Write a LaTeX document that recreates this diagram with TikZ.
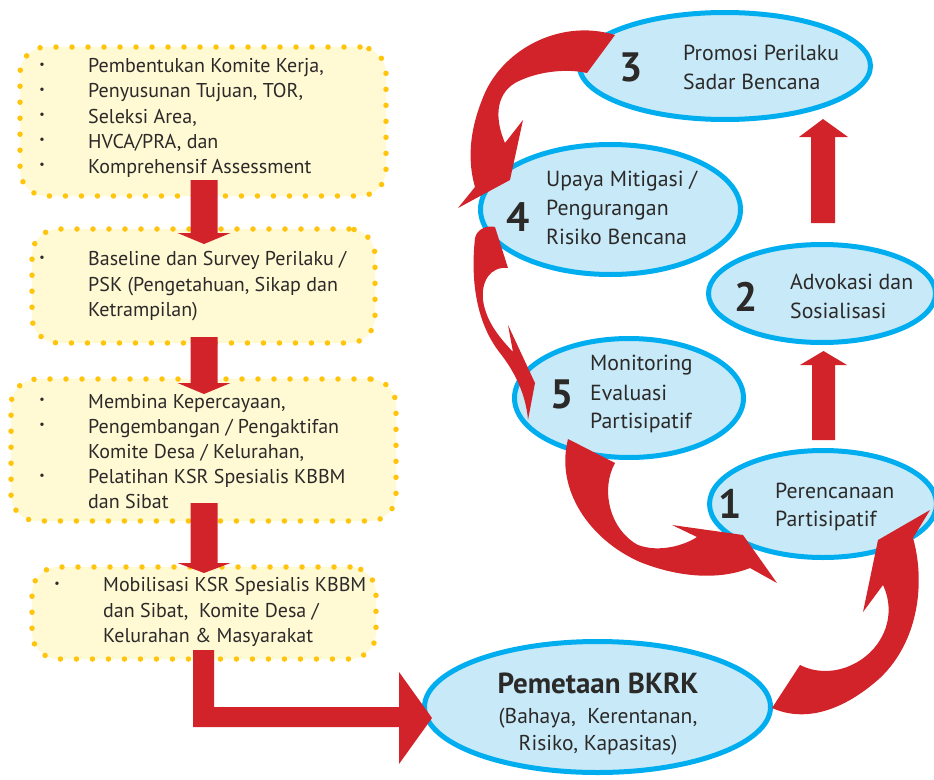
\documentclass[tikz,border=0pt]{standalone}
\usepackage{fontspec}
\setmainfont{PT Sans}
\usetikzlibrary{shapes.geometric}
\definecolor{arrowred}{HTML}{D2232A}
\definecolor{ringblue}{HTML}{00AEEF}
\definecolor{ringfill}{HTML}{C8E9F8}
\definecolor{boxfill}{HTML}{FFF9D4}
\definecolor{dotgold}{HTML}{FFC40C}
\definecolor{ink}{HTML}{2B2A29}
\begin{document}
\begin{tikzpicture}[x=1pt,y=-1pt,
  stepbox/.style={rectangle, fill=boxfill, draw=dotgold, line width=5.5pt, line cap=round,
    dash pattern=on 0pt off 16pt, rounded corners=26pt, inner sep=0pt},
  ring/.style={ellipse, draw=ringblue, fill=ringfill, line width=5pt, inner sep=0pt},
  boxline/.style={anchor=base west, inner sep=0pt, text=ink, font=\fontsize{20}{24}\selectfont},
  ringline/.style={anchor=base west, inner sep=0pt, text=ink, font=\fontsize{21.8}{26}\selectfont},
  bul/.style={inner sep=0pt, text=ink, font=\fontsize{12}{12}\selectfont},
  stepnum/.style={anchor=base, inner sep=0pt, text=ink, font=\fontsize{41}{41}\selectfont\bfseries},
  flow/.style={fill=arrowred}
]
\useasboundingbox (0,0) rectangle (934,779);

% ---------- left column: dotted step boxes ----------
\node[stepbox, minimum width=366pt, minimum height=149pt] (b1) at (203,121.5) {};
\node[stepbox, minimum width=343pt, minimum height=114pt] (b2) at (203.5,286) {};
\node[stepbox, minimum width=385pt, minimum height=142pt] (b3) at (203.5,450) {};
\node[stepbox, minimum width=344pt, minimum height=92pt]  (b4) at (204,613) {};

% ---------- right side: cycle ellipses ----------
\node[ring, minimum width=291pt, minimum height=107pt] (e3) at (725,66) {};
\node[ring, minimum width=260pt, minimum height=130pt] (e4) at (610.5,209.5) {};
\node[ring, minimum width=227pt, minimum height=98pt]  (e2) at (822,293.5) {};
\node[ring, minimum width=229pt, minimum height=119pt] (e5) at (629,398) {};
\node[ring, minimum width=227pt, minimum height=107pt] (e1) at (823,504) {};
\node[ring, minimum width=346pt, minimum height=131pt] (e0) at (597.5,707) {};

% ---------- straight arrows in the left column ----------
\coordinate (d1) at (204,180);
\coordinate (d2) at (204,337);
\coordinate (d3) at (204,503);
\fill[flow, shift={(d1)}] (-13.5,0) -- (13.5,0) -- (13.5,53) -- (26.5,53) -- (0,64) -- (-26.5,53) -- (-13.5,53) -- cycle;
\fill[flow, shift={(d2)}] (-13.5,0) -- (13.5,0) -- (13.5,46) -- (26.5,46) -- (0,57) -- (-26.5,46) -- (-13.5,46) -- cycle;
\fill[flow, shift={(d3)}] (-13.5,0) -- (13.5,0) -- (13.5,60) -- (26.5,60) -- (0,70) -- (-26.5,60) -- (-13.5,60) -- cycle;

% bent arrow from the last box into the mapping ellipse
\fill[flow] (193,650) -- (214,650) -- (214,707) -- (399,707) -- (399,672) -- (432,718)
  -- (399,764) -- (399,727) -- (193,727) -- cycle;

% ---------- straight upward arrows on the right ----------
\coordinate (u1) at (823.5,440);
\coordinate (u2) at (823,223);
\fill[flow, shift={(u1)}] (-11.5,0) -- (11.5,0) -- (11.5,-75) -- (23.5,-75) -- (0,-89) -- (-23.5,-75) -- (-11.5,-75) -- cycle;
\fill[flow, shift={(u2)}] (-12,0) -- (12,0) -- (12,-86) -- (25,-86) -- (0,-104) -- (-24,-86) -- (-12,-86) -- cycle;

% ---------- curved arrows of the cycle ----------
% 3 -> 4
\fill[flow] (615,35) .. controls (560,18) and (500,50) .. (482,100)
  .. controls (466,140) and (470,170) .. (475,187) -- (458,208) -- (510,180) -- (523,120) -- (505,143)
  .. controls (495,120) and (495,95) .. (515,83) .. controls (535,72) and (565,68) .. (587,73) -- cycle;
% 4 -> 5
\fill[flow] (475,238) .. controls (477,229) and (487,225) .. (495,227) -- (508,268)
  .. controls (490,266) and (481,282) .. (483,300) .. controls (486,322) and (500,338) .. (513,352)
  -- (508,325) -- (535,383) -- (528,420)
  .. controls (526,395) and (515,372) .. (500,353) .. controls (478,325) and (470,285) .. (475,238) -- cycle;
% 5 -> 1
\fill[flow] (568,439) -- (615,463) .. controls (600,490) and (610,530) .. (638,545)
  .. controls (660,553) and (685,545) .. (697,537) -- (672,525) -- (743,535) -- (777,583) -- (750,568)
  .. controls (720,580) and (680,578) .. (640,562) .. controls (590,540) and (555,490) .. (568,439) -- cycle;
% mapping -> 1
\fill[flow] (772,708) -- (800,665) .. controls (830,680) and (865,665) .. (880,640)
  .. controls (892,620) and (890,600) .. (883,585) -- (863,612) -- (878,540) -- (930,510) -- (913,538)
  .. controls (925,580) and (920,640) .. (880,678) .. controls (850,705) and (810,725) .. (772,708) -- cycle;

% ---------- texts of the step boxes ----------
\node[bul] (b1d1) at (42,65.5) {•};
\node[bul] (b1d2) at (42,90.7) {•};
\node[bul] (b1d3) at (42,116) {•};
\node[bul] (b1d4) at (42,141) {•};
\node[bul] (b1d5) at (42,166) {•};
\node[boxline] (b1t1) at (88,72.5) {Pembentukan Komite Kerja,};
\node[boxline] (b1t2) at (88,97.7) {Penyusunan Tujuan, TOR,};
\node[boxline] (b1t3) at (88,123) {Seleksi Area,};
\node[boxline] (b1t4) at (88,148) {HVCA/PRA, dan};
\node[boxline] (b1t5) at (88,173) {Komprehensif Assessment};

\node[bul] (b2d1) at (42,258.5) {•};
\node[boxline] (b2t1) at (88,265.5) {Baseline dan Survey Perilaku /};
\node[boxline] (b2t2) at (88,291) {PSK (Pengetahuan, Sikap dan};
\node[boxline] (b2t3) at (88,316.5) {Ketrampilan)};

\node[bul] (b3d1) at (42,401) {•};
\node[bul] (b3d2) at (42,426) {•};
\node[bul] (b3d3) at (42,476.5) {•};
\node[boxline] (b3t1) at (88,408) {Membina Kepercayaan,};
\node[boxline] (b3t2) at (88,433) {Pengembangan / Pengaktifan};
\node[boxline] (b3t3) at (88,458) {Komite Desa / Kelurahan,};
\node[boxline] (b3t4) at (88,483.5) {Pelatihan KSR Spesialis KBBM};
\node[boxline] (b3t5) at (88,508.5) {dan Sibat};

\node[bul] (b4d1) at (57,584.5) {•};
\node[boxline] (b4t1) at (103,591.5) {Mobilisasi KSR Spesialis KBBM};
\node[boxline] (b4t2) at (103,617) {dan Sibat,\ \ Komite Desa /};
\node[boxline] (b4t3) at (103,642.5) {Kelurahan \& Masyarakat};

% ---------- texts of the ellipses ----------
\node[stepnum] (n3) at (631,81.7) {3};
\node[ringline] (e3t1) at (683,60) {Promosi Perilaku};
\node[ringline] (e3t2) at (683,89.3) {Sadar Bencana};

\node[stepnum] (n4) at (518,231.7) {4};
\node[ringline] (e4t1) at (546,186.7) {Upaya Mitigasi /};
\node[ringline] (e4t2) at (546,215.5) {Pengurangan};
\node[ringline] (e4t3) at (546,244.3) {Risiko Bencana};

\node[stepnum] (n2) at (746,311.7) {2};
\node[ringline] (e2t1) at (790,289.3) {Advokasi dan};
\node[ringline] (e2t2) at (790,318.3) {Sosialisasi};

\node[stepnum] (n5) at (562.5,408.3) {5};
\node[ringline] (e5t1) at (590,370.7) {Monitoring};
\node[ringline] (e5t2) at (590,400) {Evaluasi};
\node[ringline] (e5t3) at (590,428.3) {Partisipatif};

\node[stepnum] (n1) at (730.5,518.3) {1};
\node[ringline] (e1t1) at (775,498.3) {Perencanaan};
\node[ringline] (e1t2) at (775,526.7) {Partisipatif};

\node[anchor=base, inner sep=0pt, text=ink, font=\fontsize{29}{33}\selectfont\bfseries] (e0t1) at (598,693.3) {Pemetaan BKRK};
\node[anchor=base, inner sep=0pt, text=ink, font=\fontsize{21.5}{25}\selectfont] (e0t2) at (598,723.3) {(Bahaya,\ \ Kerentanan,};
\node[anchor=base, inner sep=0pt, text=ink, font=\fontsize{21.5}{25}\selectfont] (e0t3) at (598,750.7) {Risiko, Kapasitas)};
\end{tikzpicture}
\end{document}
